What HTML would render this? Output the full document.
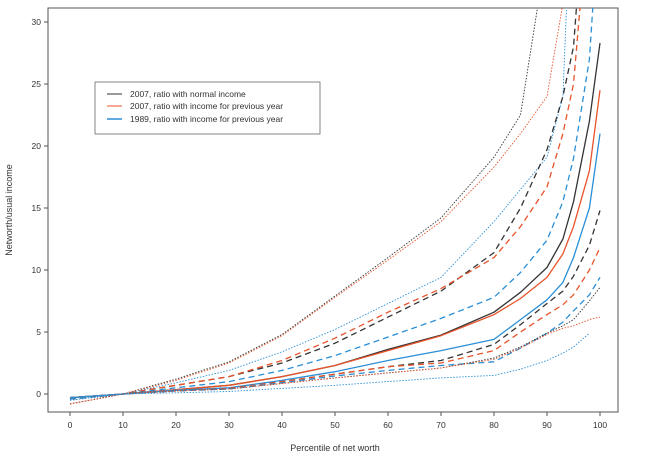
<!DOCTYPE html>
<html><head><meta charset="utf-8"><style>
body{margin:0;background:#fff}
svg{display:block;font-family:"Liberation Sans",sans-serif}
</style></head><body>
<svg id="chart" width="650" height="459">
<defs><clipPath id="plotclip"><rect x="48" y="8" width="570" height="404"/></clipPath></defs>
<rect x="48" y="8" width="570" height="404" fill="none" stroke="#555" stroke-width="1"/>
<g id="axes"></g>
<g id="series" clip-path="url(#plotclip)"></g>
<text x="12" y="210" font-size="9" fill="#333" text-anchor="middle" transform="rotate(-90 12 210)">Networth/usual income</text>
<text x="335" y="451" font-size="9" fill="#333" text-anchor="middle">Percentile of net worth</text>
<g>
<rect x="95" y="82" width="225" height="52" fill="#fff" stroke="#666" stroke-width="0.8"/>
<line x1="107" y1="94" x2="122" y2="94" stroke="#333" stroke-width="1"/>
<text x="130" y="97" font-size="8.5" fill="#333">2007, ratio with normal income</text>
<line x1="107" y1="106" x2="122" y2="106" stroke="#e8532a" stroke-width="1"/>
<text x="130" y="109" font-size="8.5" fill="#333">2007, ratio with income for previous year</text>
<line x1="107" y1="119" x2="122" y2="119" stroke="#2a8fd6" stroke-width="1.5"/>
<text x="130" y="122" font-size="8.5" fill="#333">1989, ratio with income for previous year</text>
</g>
</svg>
<script>
const percentiles=[0,10,20,30,40,50,60,70,80,85,90,93,95,98,100];
const xTicks=[0,10,20,30,40,50,60,70,80,90,100];
const yTicks=[0,5,10,15,20,25,30];
const blackDottedHigh=[-0.8,0,1.2,2.6,4.8,7.9,11,14.2,19.1,22.5,36,60,80,90,100];
const orangeDottedHigh=[-0.8,0,1.1,2.5,4.7,7.8,10.8,13.9,18.3,21,24,31.5,45,60,80];
const blueDottedHigh=[-0.5,0,0.9,1.9,3.4,5.2,7.3,9.4,13.9,16.5,19.1,24,45,60,80];
const blackDashedHigh=[-0.4,0,0.7,1.4,2.5,4.1,6.2,8.3,11.4,15,19.7,24,28,45,60];
const orangeDashedHigh=[-0.4,0,0.7,1.4,2.7,4.5,6.6,8.5,11,13.5,16.7,21,25,40,60];
const blueDashedHigh=[-0.4,0,0.5,1.0,1.9,3.1,4.6,6.1,7.8,9.8,12.4,15.5,19,27,40];
const blackSolid=[-0.3,0,0.35,0.7,1.4,2.3,3.6,4.75,6.6,8.2,10.2,12.5,15.5,22,28.3];
const orangeSolid=[-0.3,0,0.35,0.7,1.4,2.3,3.5,4.7,6.4,7.7,9.4,11.3,13.5,18,24.5];
const blueSolid=[-0.3,0,0.3,0.5,1.1,1.8,2.7,3.5,4.4,6.0,7.6,9,11,15,21];
const blackDashedLow=[-0.3,0,0.25,0.45,1.0,1.6,2.2,2.7,4.0,5.6,7.3,8.3,9.5,12,14.8];
const orangeDashedLow=[-0.3,0,0.25,0.45,1.0,1.6,2.2,2.5,3.5,5.0,6.4,7.2,8,10,11.8];
const blueDashedLow=[-0.3,0,0.25,0.4,0.9,1.45,1.9,2.3,2.6,3.7,4.9,5.8,6.7,8,9.4];
const blackDottedLow=[-0.8,0,0.25,0.4,0.85,1.3,1.7,2.1,2.9,3.8,4.9,5.5,6,7.5,8.6];
const orangeDottedLow=[-0.8,0,0.25,0.4,0.85,1.3,1.7,2.1,2.8,3.7,4.8,5.3,5.5,6,6.2];
const blueDottedLow=[-0.5,0,0.1,0.2,0.45,0.7,1.0,1.3,1.5,2.0,2.7,3.3,3.8,4.9,null];

const NS="http://www.w3.org/2000/svg";
function xScale(p){return 70+p*5.3;}
function yScale(v){return 394-v*12.4;}
const axes=document.getElementById('axes');
const series=document.getElementById('series');
function mk(tag,attrs,parent){const e=document.createElementNS(NS,tag);for(const k in attrs)e.setAttribute(k,attrs[k]);parent.appendChild(e);return e;}
xTicks.forEach(t=>{
  const l=mk('line',{x1:xScale(t),x2:xScale(t),y1:412,y2:416,stroke:'#555'},axes);
  
  
  const tx=mk('text',{x:xScale(t),y:428,'font-size':8.5,fill:'#333','text-anchor':'middle'},axes);
  tx.textContent=t;
  
  
});
yTicks.forEach(t=>{
  const l=mk('line',{x1:44,x2:48,y1:yScale(t),y2:yScale(t),stroke:'#555'},axes);
  
  
  const tx=mk('text',{x:41,y:yScale(t)+3,'font-size':8.5,fill:'#333','text-anchor':'end'},axes);
  tx.textContent=t;
  
  
});
const BK='#333',OR='#e8532a',BL='#2a8fd6';
const defs=[
 [blackDottedHigh,BK,'dot','black-dotted-high'],
 [orangeDottedHigh,OR,'dot','orange-dotted-high'],
 [blueDottedHigh,BL,'dot','blue-dotted-high'],
 [blackDashedHigh,BK,'dash','black-dashed-high'],
 [orangeDashedHigh,OR,'dash','orange-dashed-high'],
 [blueDashedHigh,BL,'dash','blue-dashed-high'],
 [blackSolid,BK,'solid','black-solid'],
 [orangeSolid,OR,'solid','orange-solid'],
 [blueSolid,BL,'solid','blue-solid'],
 [blackDashedLow,BK,'dash','black-dashed-low'],
 [orangeDashedLow,OR,'dash','orange-dashed-low'],
 [blueDashedLow,BL,'dash','blue-dashed-low'],
 [blackDottedLow,BK,'dot','black-dotted-low'],
 [orangeDottedLow,OR,'dot','orange-dotted-low'],
 [blueDottedLow,BL,'dot','blue-dotted-low']
];
defs.forEach(([vals,col,sty,name])=>{
  let d='';
  vals.forEach((v,i)=>{if(v===null)return;d+=(d?'L':'M')+xScale(percentiles[i]).toFixed(1)+','+yScale(v).toFixed(1);});
  const p=mk('path',{d:d,fill:'none',stroke:col,'stroke-width':sty==='dot'?0.9:1.3,'stroke-linejoin':'round'},series);
  if(sty==='dash')p.setAttribute('stroke-dasharray','6,4');
  if(sty==='dot')p.setAttribute('stroke-dasharray','1.5,1.5');
  
  
});
</script>
</body></html>
